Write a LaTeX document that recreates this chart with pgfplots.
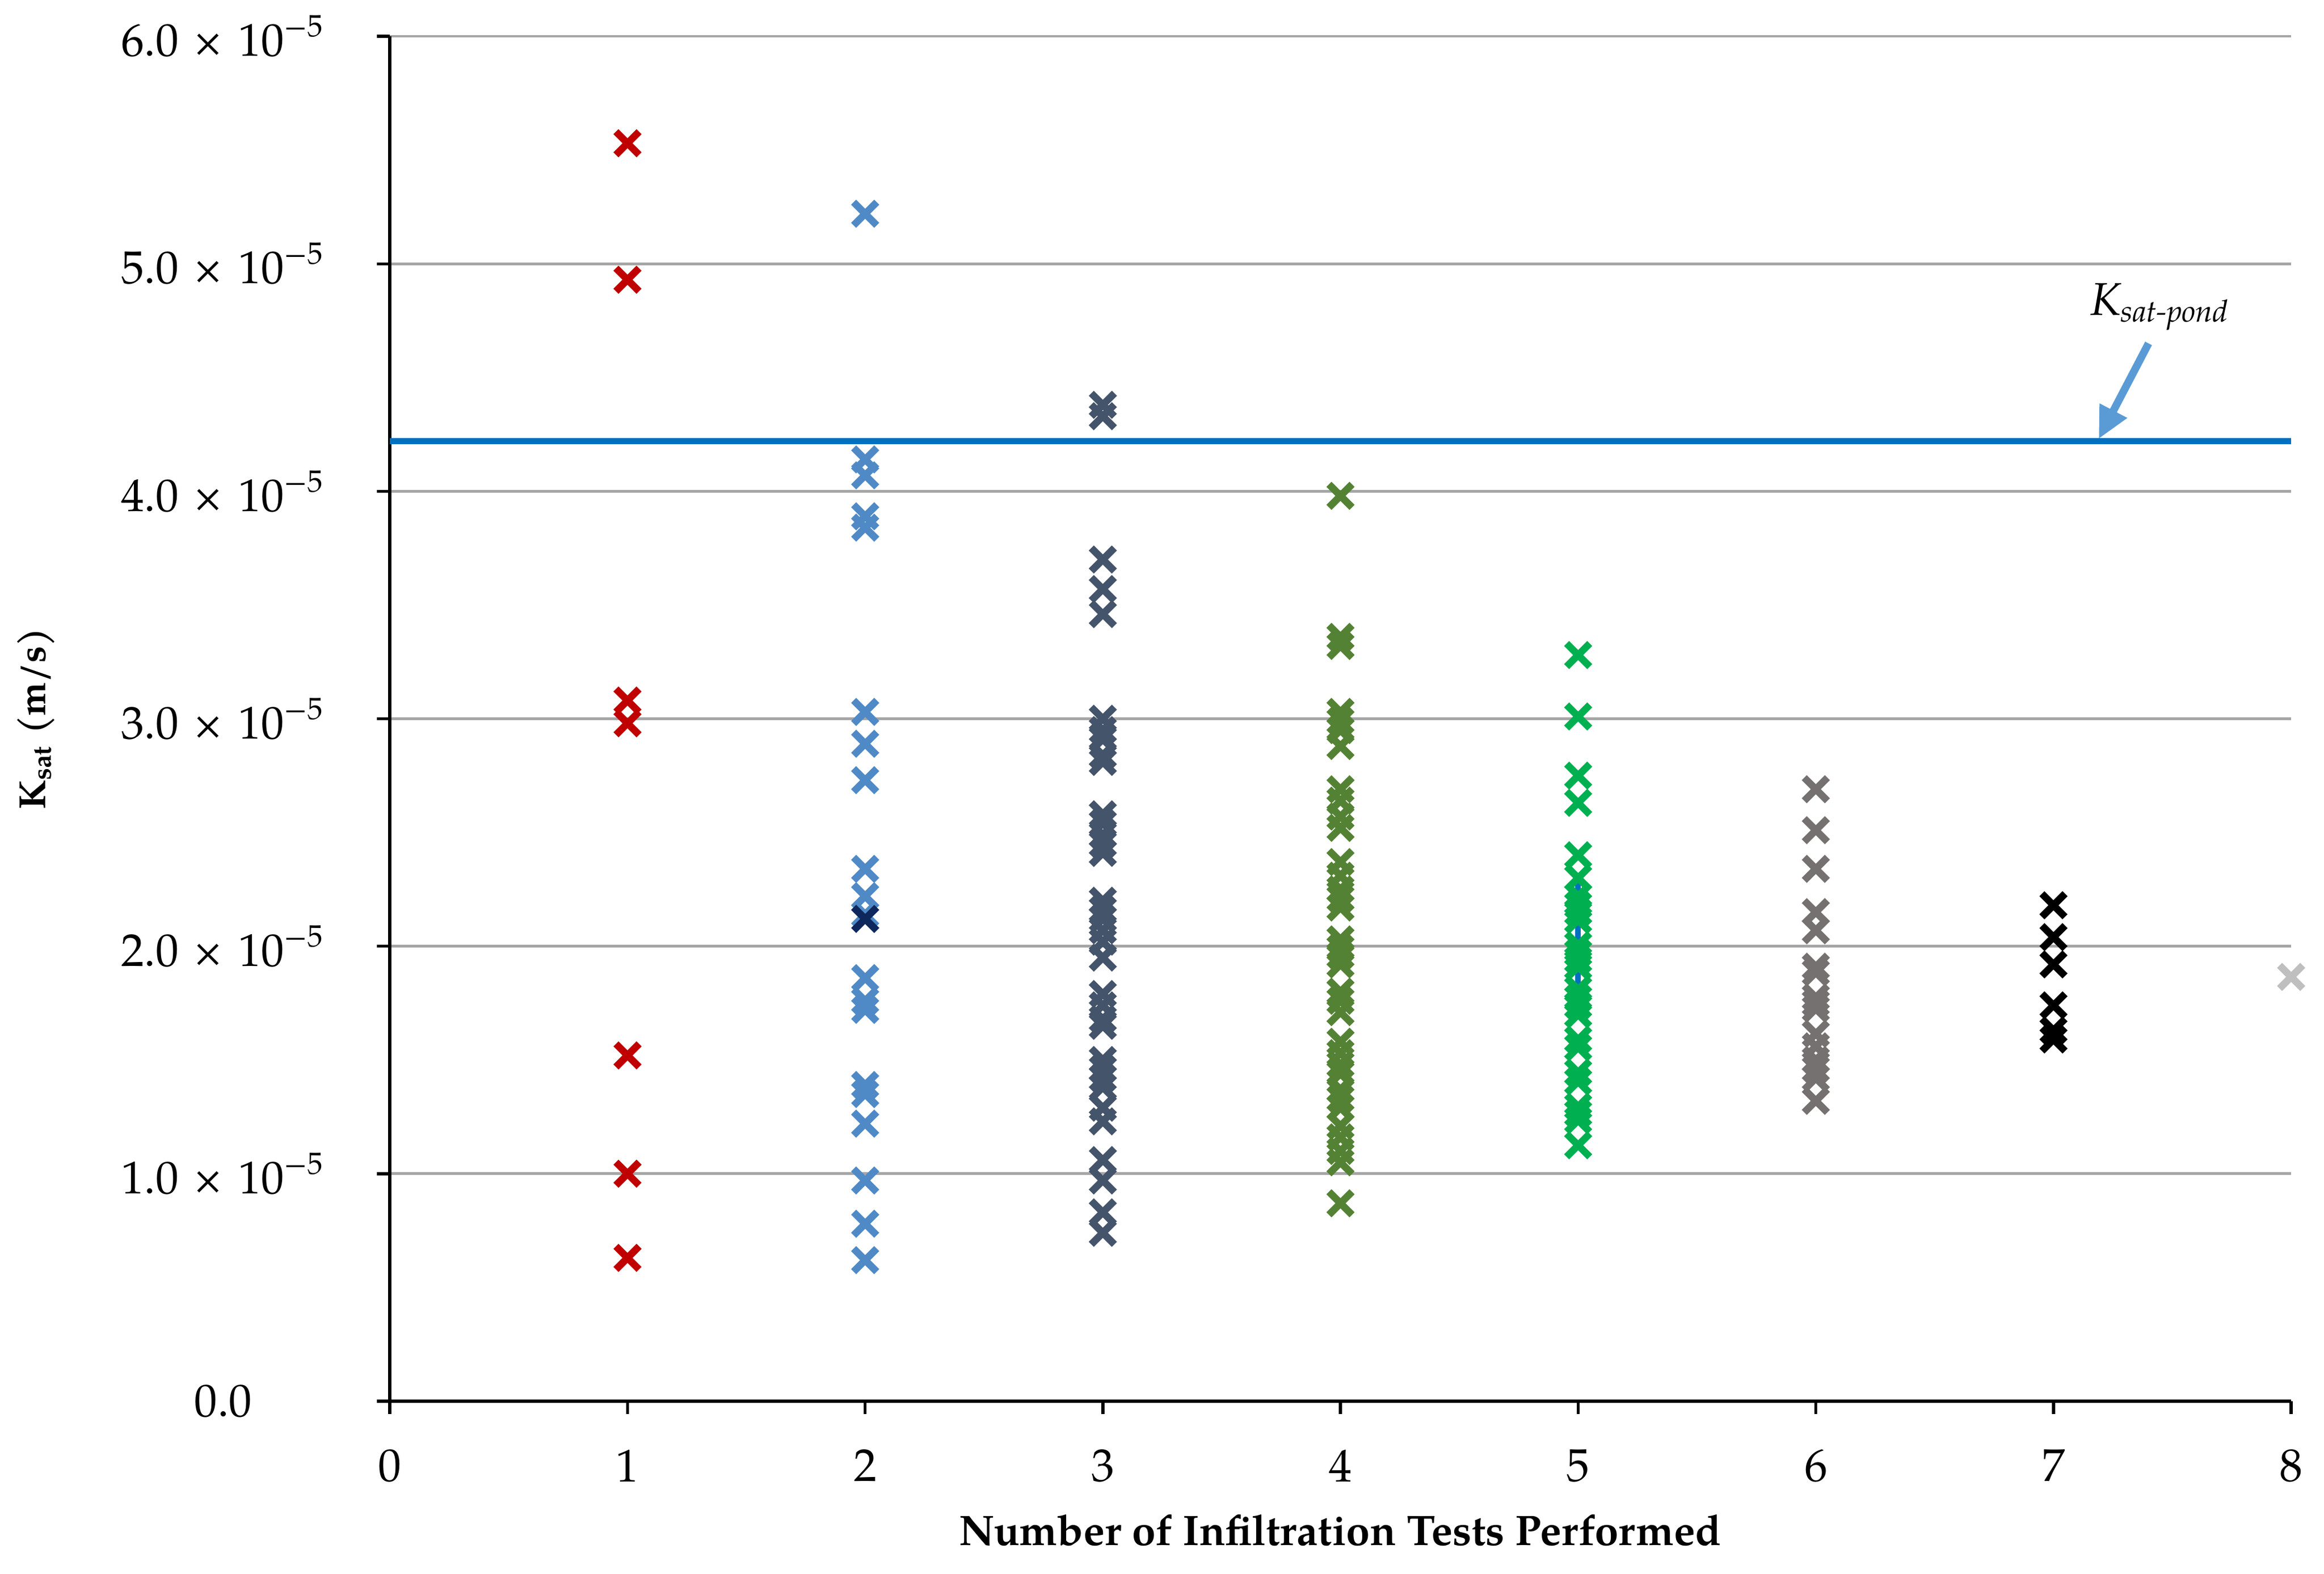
\documentclass[border=0pt]{standalone}
\usepackage{fontspec}
\setmainfont{texgyrepagella}[Extension=.otf, UprightFont=*-regular, BoldFont=*-bold, ItalicFont=*-italic, BoldItalicFont=*-bolditalic]
\usepackage{pgfplots}
\pgfplotsset{compat=1.18}
\usetikzlibrary{arrows.meta}

\definecolor{cred}{RGB}{192,0,0}
\definecolor{clblue}{RGB}{80,138,198}
\definecolor{cnavy}{RGB}{14,40,94}
\definecolor{cslate}{RGB}{68,84,106}
\definecolor{cdgreen}{RGB}{84,130,53}
\definecolor{cgreen}{RGB}{0,176,80}
\definecolor{cgray}{RGB}{118,113,113}
\definecolor{clgray}{RGB}{191,191,191}
\definecolor{cline}{RGB}{0,112,192}
\definecolor{carrow}{RGB}{91,155,213}
\definecolor{cgrid}{RGB}{165,165,165}

\pgfplotsset{kx/.style={only marks, mark=x, mark size=3.2pt, line width=1.4pt, color=#1}}

\begin{document}
\begin{tikzpicture}
\useasboundingbox (-2.684,-1.19) rectangle (13.316,9.65);
\begin{axis}[
    width=13.09cm, height=9.40cm, scale only axis,
    xmin=0, xmax=8, ymin=0, ymax=6,
    axis x line=bottom, axis y line=left,
    axis line style={-, black, line width=0.6pt},
    xtick={0,...,8}, ytick={0,...,6},
    yticklabels={0.0, {1.0 × 10\textsuperscript{−5}}, {2.0 × 10\textsuperscript{−5}},
                 {3.0 × 10\textsuperscript{−5}}, {4.0 × 10\textsuperscript{−5}},
                 {5.0 × 10\textsuperscript{−5}}, {6.0 × 10\textsuperscript{−5}}},
    ymajorgrids, grid style={cgrid, line width=0.5pt},
    tick align=outside, major tick length=0.09cm,
    tick style={black, line width=0.6pt},
    tick label style={font=\fontsize{9}{10.5}\selectfont},
    xticklabel style={/pgf/number format/assume math mode=true, yshift=-0.12cm},
    yticklabel style={text width=1.7cm, align=center, inner sep=0pt, xshift=-0.2cm},
    clip=false,
    xlabel={Number of Infiltration Tests Performed},
    ylabel={K\textsubscript{sat} (m/s)},
    every axis x label/.style={at={(axis description cs:0.5,-0.0945)}, anchor=center,
        font=\fontsize{8.35}{10}\selectfont\bfseries},
    every axis y label/.style={at={(axis description cs:-0.186,0.5)}, rotate=90, anchor=center,
        font=\fontsize{7.4}{9}\selectfont\bfseries},
]
% pond value
\addplot[cline, line width=1.2pt] coordinates {(0,4.22) (8,4.22)};

% 1 test
\addplot[kx=cred] coordinates {
 (1,5.53) (1,4.93) (1,3.08) (1,2.98) (1,1.52) (1,1.00) (1,0.63)
};
% 2 tests
\addplot[kx=clblue] coordinates {
 (2,5.22) (2,4.14) (2,4.07) (2,3.89) (2,3.84) (2,3.03) (2,2.89) (2,2.73)
 (2,2.34) (2,2.22) (2,2.14) (2,1.86) (2,1.76) (2,1.72) (2,1.39) (2,1.35)
 (2,1.22) (2,0.97) (2,0.78) (2,0.62)
};
\addplot[kx=cnavy] coordinates {(2,2.12)};
% 3 tests
\addplot[kx=cslate] coordinates {
 (3,4.38) (3,4.33) (3,3.70) (3,3.57) (3,3.46) (3,3.00) (3,2.95) (3,2.91)
 (3,2.84) (3,2.81) (3,2.58) (3,2.54) (3,2.49) (3,2.45) (3,2.41) (3,2.20)
 (3,2.16) (3,2.12) (3,2.07) (3,2.02) (3,1.95) (3,1.79) (3,1.74) (3,1.68)
 (3,1.65) (3,1.50) (3,1.46) (3,1.42) (3,1.38) (3,1.29) (3,1.23) (3,1.06)
 (3,0.97) (3,0.83) (3,0.74)
};
% 4 tests
\addplot[kx=cdgreen] coordinates {
 (4,3.98) (4,3.36) (4,3.32) (4,3.03) (4,2.99) (4,2.95) (4,2.88) (4,2.69)
 (4,2.64) (4,2.57) (4,2.52) (4,2.37) (4,2.31) (4,2.25) (4,2.21) (4,2.17)
 (4,2.03) (4,1.99) (4,1.96) (4,1.92) (4,1.80) (4,1.76) (4,1.71) (4,1.58)
 (4,1.53) (4,1.48) (4,1.44) (4,1.37) (4,1.33) (4,1.29) (4,1.21) (4,1.16)
 (4,1.10) (4,1.05) (4,0.87)
};
% 5 tests
\addplot[only marks, mark=|, mark size=1.6pt, line width=1.1pt, color=cline] coordinates {
 (5,2.265) (5,2.065) (5,1.86)
};
\addplot[kx=cgreen] coordinates {
 (5,3.28) (5,3.01) (5,2.75) (5,2.63) (5,2.40) (5,2.30) (5,2.22) (5,2.18)
 (5,2.15) (5,2.115) (5,2.005) (5,1.97) (5,1.94) (5,1.91) (5,1.81) (5,1.77)
 (5,1.74) (5,1.70) (5,1.59) (5,1.555) (5,1.445) (5,1.405) (5,1.295) (5,1.265)
 (5,1.235) (5,1.125)
};
% 6 tests
\addplot[kx=cgray] coordinates {
 (6,2.69) (6,2.51) (6,2.34) (6,2.15) (6,2.07) (6,1.91) (6,1.885) (6,1.775)
 (6,1.75) (6,1.725) (6,1.615) (6,1.56) (6,1.50) (6,1.46) (6,1.42) (6,1.32)
};
% 7 tests
\addplot[kx=black] coordinates {
 (7,2.18) (7,2.04) (7,1.92) (7,1.74) (7,1.63) (7,1.59)
};
% 8 tests
\addplot[kx=clgray] coordinates {(8,1.865)};

\node[font=\fontsize{9}{11}\selectfont\itshape] at (axis cs:7.45,4.81) {K\textsubscript{sat-pond}};
\draw[-{Triangle[length=0.22cm, width=0.2cm]}, carrow, line width=1.5pt]
    (axis cs:7.40,4.65) -- (axis cs:7.19,4.23);
\end{axis}
\end{tikzpicture}
\end{document}
